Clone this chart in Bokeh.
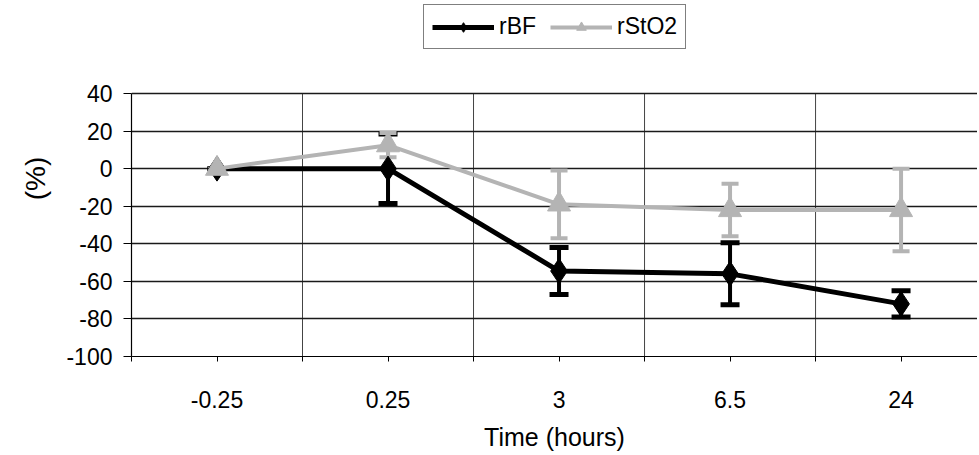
from bokeh.plotting import figure
from bokeh.models import (ColumnDataSource, Whisker, TeeHead, FixedTicker, Legend,
                          LegendItem, Range1d)
from bokeh.embed import file_html
from bokeh.resources import INLINE

# ---- data ----
categories = ["-0.25", "0.25", "3", "6.5", "24"]
rbf = [0, 0, -54.5, -56, -72]
rbf_err = [0, 18.5, 12.5, 16.5, 7]
rsto2 = [0, 12.5, -19, -22, -22]
rsto2_err = [0, 6.5, 18, 14, 22]
y_ticks = [-100, -80, -60, -40, -20, 0, 20, 40]

FONT = "Liberation Sans"
GRAY = "#b4b4b4"

xs = list(range(len(categories)))
bounds_x = [i - 0.5 for i in range(len(categories) + 1)]

p = figure(width=977, height=454, output_backend="svg", toolbar_location=None,
           x_range=Range1d(-0.5, 4.447), y_range=Range1d(y_ticks[0], 89.5),
           min_border_left=131, min_border_right=0, min_border_top=0,
           min_border_bottom=98)
p.outline_line_color = None
p.background_fill_color = "white"
p.border_fill_color = "white"

# grids
p.ygrid.ticker = FixedTicker(ticks=y_ticks)
p.ygrid.grid_line_color = "#1a1a1a"
p.ygrid.grid_line_width = 1.3
p.xgrid.grid_line_color = None

# vertical category-boundary gridlines (limited to the value axis extent)
p.segment(x0=bounds_x, y0=[y_ticks[0]] * len(bounds_x), x1=bounds_x,
          y1=[y_ticks[-1]] * len(bounds_x), line_color="#444444", line_width=1,
          level="underlay")

# axes
xa = p.xaxis[0]
xa.ticker = FixedTicker(ticks=xs, minor_ticks=bounds_x)
xa.major_label_overrides = {i: c for i, c in enumerate(categories)}
xa.axis_label = "Time (hours)"
xa.major_tick_out = 5
xa.major_tick_in = 0
xa.minor_tick_out = 5
xa.minor_tick_in = 0
xa.major_label_standoff = 29
xa.axis_label_standoff = 12

ya = p.yaxis[0]
ya.ticker = FixedTicker(ticks=y_ticks)
ya.bounds = (y_ticks[0], y_ticks[-1])
ya.major_label_overrides = {v: str(v) for v in y_ticks}
ya.axis_label = "(%)"
ya.major_tick_out = 8
ya.major_tick_in = 0
ya.minor_tick_out = 0
ya.minor_tick_in = 0
ya.major_label_standoff = 11
ya.axis_label_standoff = 12

for ax in (xa, ya):
    ax.axis_line_color = "black"
    ax.axis_line_width = 1.2
    ax.major_tick_line_color = "black"
    ax.minor_tick_line_color = "black"
    ax.major_label_text_font = FONT
    ax.major_label_text_font_size = "23px"
    ax.major_label_text_color = "black"
    ax.axis_label_text_font = FONT
    ax.axis_label_text_font_style = "normal"
    ax.axis_label_text_color = "black"
xa.axis_label_text_font_size = "25px"
ya.axis_label_text_font_size = "28px"

# sources
src_b = ColumnDataSource(dict(x=xs, y=rbf,
                              upper=[v + e for v, e in zip(rbf, rbf_err)],
                              lower=[v - e for v, e in zip(rbf, rbf_err)]))
src_g = ColumnDataSource(dict(x=xs, y=rsto2,
                              upper=[v + e for v, e in zip(rsto2, rsto2_err)],
                              lower=[v - e for v, e in zip(rsto2, rsto2_err)]))

wb = Whisker(source=src_b, base="x", upper="upper", lower="lower", dimension="height",
             line_color="black", line_width=4,
             upper_head=TeeHead(size=19, line_color="black", line_width=5),
             lower_head=TeeHead(size=19, line_color="black", line_width=5))
wg = Whisker(source=src_g, base="x", upper="upper", lower="lower", dimension="height",
             line_color=GRAY, line_width=4,
             upper_head=TeeHead(size=17, line_color=GRAY, line_width=4),
             lower_head=TeeHead(size=17, line_color=GRAY, line_width=4))
p.add_layout(wb)
p.add_layout(wg)

lb = p.line("x", "y", source=src_b, line_color="black", line_width=5)
mb = p.scatter("x", "y", source=src_b, marker="diamond", size=25,
               fill_color="black", line_color="black")
lg = p.line("x", "y", source=src_g, line_color=GRAY, line_width=4)
mg = p.scatter("x", "y", source=src_g, marker="triangle", size=23,
               fill_color=GRAY, line_color=GRAY)

legend = Legend(items=[LegendItem(label="rBF", renderers=[lb, mb]),
                       LegendItem(label="rStO2", renderers=[lg, mg])],
                orientation="horizontal", location=(292, 307),
                border_line_color="black", border_line_width=1.3,
                label_text_font=FONT, label_text_font_size="23px",
                label_text_color="black",
                glyph_width=62, glyph_height=24, label_height=24,
                label_standoff=5, spacing=14, padding=8, margin=0)
p.add_layout(legend, "center")

open("out.html", "w").write(file_html(p, INLINE))
